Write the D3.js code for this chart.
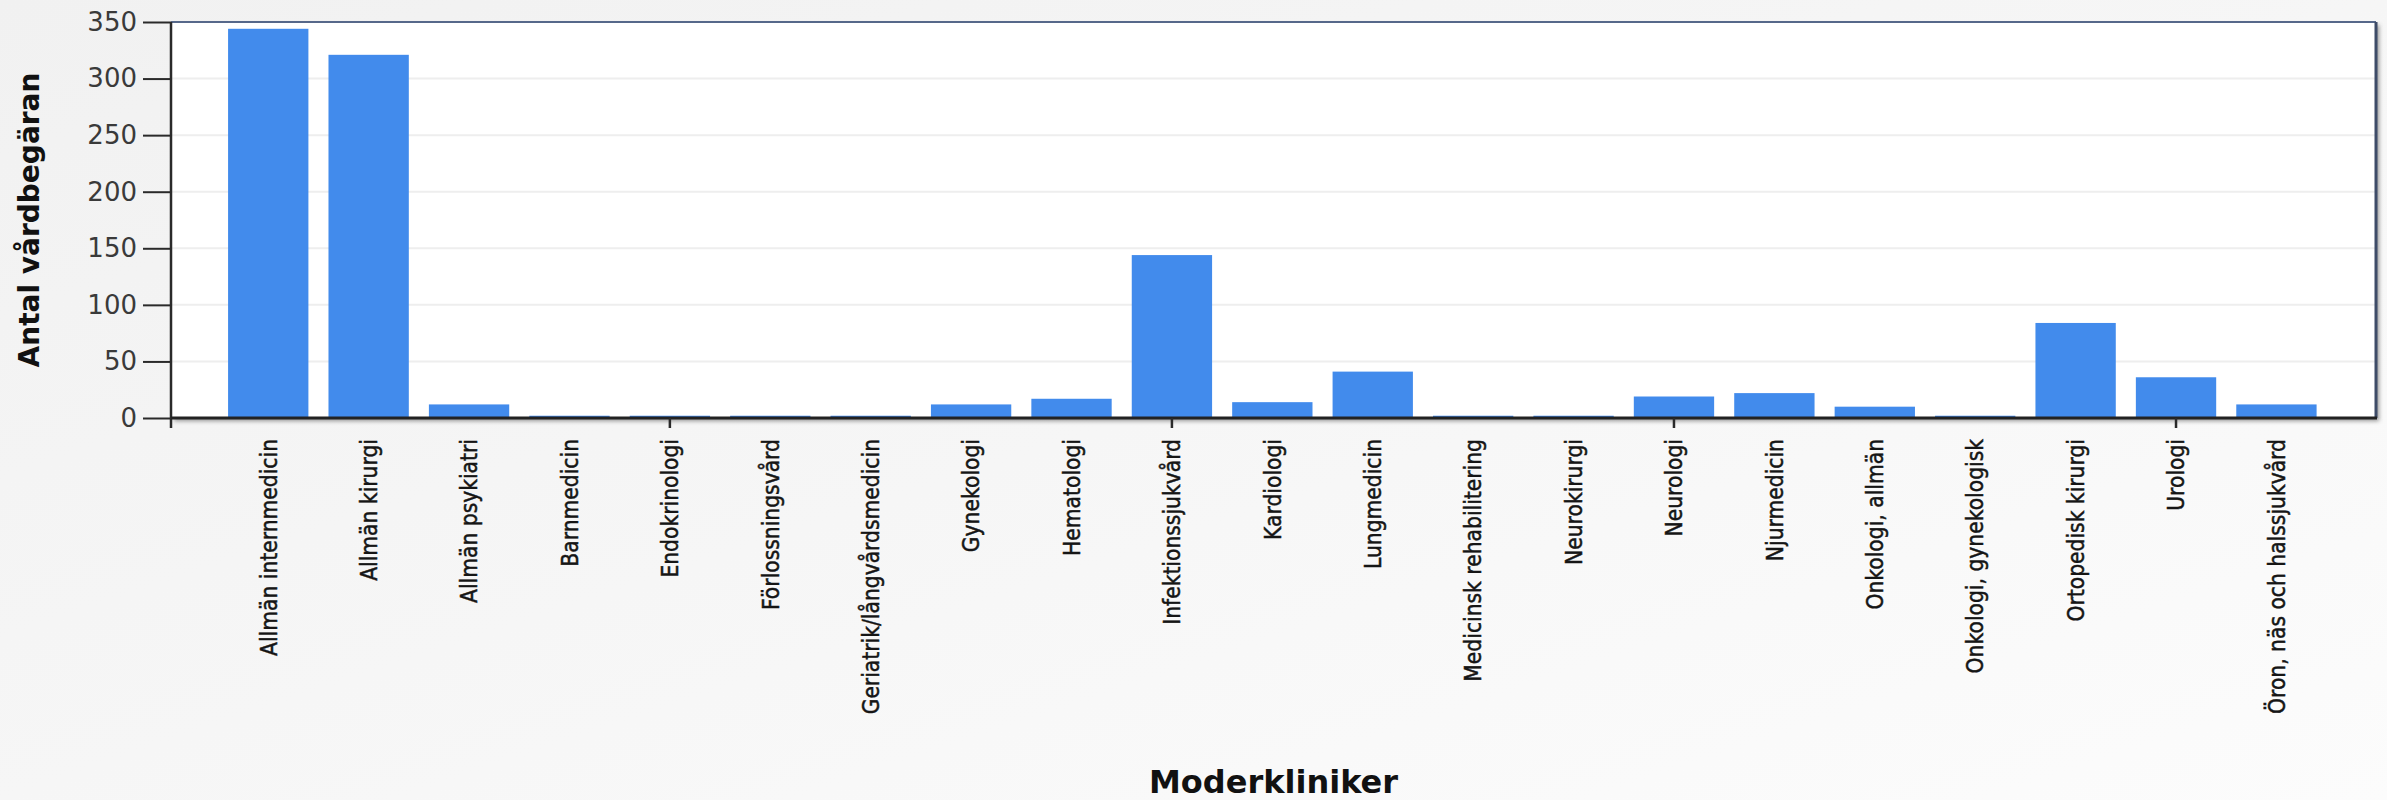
<!DOCTYPE html>
<html>
<head>
<meta charset="utf-8">
<script src="https://cdn.jsdelivr.net/npm/d3@7/dist/d3.min.js"></script>
<style>
  html, body { margin: 0; padding: 0; overflow: hidden; }
  svg { display: block; }
</style>
</head>
<body>
<svg id="chart" width="2387" height="800"></svg>
<script>
const categories = [
  "Allmän internmedicin", "Allmän kirurgi", "Allmän psykiatri", "Barnmedicin",
  "Endokrinologi", "Förlossningsvård", "Geriatrik/långvårdsmedicin", "Gynekologi",
  "Hematologi", "Infektionssjukvård", "Kardiologi", "Lungmedicin",
  "Medicinsk rehabilitering", "Neurokirurgi", "Neurologi", "Njurmedicin",
  "Onkologi, allmän", "Onkologi, gynekologisk", "Ortopedisk kirurgi", "Urologi",
  "Öron, näs och halssjukvård"
];
const values = [344, 321, 12, 2, 2, 2, 2, 12, 17, 144, 14, 41, 2, 2, 19, 22, 10, 2, 84, 36, 12];
const yTicks = [0, 50, 100, 150, 200, 250, 300, 350];
const xTickCategories = ["Endokrinologi", "Infektionssjukvård", "Neurologi", "Urologi"];
const yTitle = "Antal vårdbegäran";
const xTitle = "Moderkliniker";

const W = 2387, H = 800;
const m = { left: 171, right: 2376, top: 22, bottom: 418 };

const svg = d3.select("#chart");
const defs = svg.append("defs");

const bg = defs.append("linearGradient").attr("id", "bg")
  .attr("x1", "0").attr("y1", "0").attr("x2", "1").attr("y2", "1");
bg.append("stop").attr("offset", "0").attr("stop-color", "#f1f1f1");
bg.append("stop").attr("offset", "0.5").attr("stop-color", "#f6f6f6");
bg.append("stop").attr("offset", "1").attr("stop-color", "#fcfcfc");

const blur = defs.append("filter").attr("id", "shadow")
  .attr("x", "-5%").attr("y", "-5%").attr("width", "110%").attr("height", "120%");
blur.append("feGaussianBlur").attr("stdDeviation", 2);

svg.append("rect").attr("width", W).attr("height", H).attr("fill", "url(#bg)");

const x = d3.scaleBand()
  .domain(categories)
  .range([m.left, m.right])
  .paddingInner(0.2)
  .paddingOuter(0.58)
  .align(0.49);

const y = d3.scaleLinear().domain([0, 350]).range([m.bottom, m.top]);

// shadow of frame
svg.append("rect")
  .attr("x", m.left + 3).attr("y", m.top + 3)
  .attr("width", m.right - m.left).attr("height", m.bottom - m.top)
  .attr("fill", "#7a7a7a").attr("filter", "url(#shadow)").attr("opacity", 0.8);

// plot background
svg.append("rect")
  .attr("x", m.left).attr("y", m.top)
  .attr("width", m.right - m.left).attr("height", m.bottom - m.top)
  .attr("fill", "#ffffff");

// grid
svg.append("g").selectAll("line").data(yTicks.filter(d => d > 0 && d < 350)).join("line")
  .attr("x1", m.left).attr("x2", m.right)
  .attr("y1", d => y(d)).attr("y2", d => y(d))
  .attr("stroke", "#eeeeee").attr("stroke-width", 2);

// bars
svg.append("g").selectAll("rect").data(values).join("rect")
  .attr("x", (d, i) => x(categories[i]))
  .attr("width", x.bandwidth())
  .attr("y", d => y(d))
  .attr("height", d => y(0) - y(d))
  .attr("fill", "#428bec");

// frame top and right
svg.append("line").attr("x1", m.left).attr("x2", m.right).attr("y1", m.top).attr("y2", m.top)
  .attr("stroke", "#56688a").attr("stroke-width", 2);
svg.append("line").attr("x1", m.right).attr("x2", m.right).attr("y1", m.top).attr("y2", m.bottom)
  .attr("stroke", "#3e4c68").attr("stroke-width", 3);

// y axis
const yAxis = d3.axisLeft(y).tickValues(yTicks).tickSize(28).tickPadding(6);
const gy = svg.append("g").attr("transform", `translate(${m.left},0)`).call(yAxis);
gy.select(".domain").remove();
gy.selectAll(".tick line").attr("stroke", "#2a2a2a").attr("stroke-width", 2);
gy.selectAll(".tick text")
  .attr("font-family", "DejaVu Sans, Verdana, sans-serif")
  .attr("font-size", 26)
  .attr("fill", "#3a3a3a");

// left axis line (extends slightly below)
svg.append("line").attr("x1", m.left).attr("x2", m.left).attr("y1", m.top).attr("y2", m.bottom + 10)
  .attr("stroke", "#2a2a2a").attr("stroke-width", 2.5);

// bottom axis line
svg.append("line").attr("x1", m.left).attr("x2", m.right + 1).attr("y1", m.bottom).attr("y2", m.bottom)
  .attr("stroke", "#222222").attr("stroke-width", 3);

// x tick marks at selected categories
svg.append("g").selectAll("line").data(xTickCategories).join("line")
  .attr("x1", d => x(d) + x.bandwidth() / 2).attr("x2", d => x(d) + x.bandwidth() / 2)
  .attr("y1", m.bottom).attr("y2", m.bottom + 10)
  .attr("stroke", "#2a2a2a").attr("stroke-width", 2.5);

// x labels (rotated, condensed)
const labelG = svg.append("g");
const probe = labelG.append("text")
  .attr("font-family", "DejaVu Sans, Verdana, sans-serif")
  .attr("font-size", 23)
  .text(categories[0]);
const natural = probe.node().getComputedTextLength();
probe.remove();
const sx = 217 / natural;

labelG.selectAll("text").data(categories).join("text")
  .attr("transform", d => `translate(${x(d) + x.bandwidth() / 2},439) rotate(-90) scale(${sx},1)`)
  .attr("text-anchor", "end")
  .attr("dy", "0.36em")
  .attr("font-family", "DejaVu Sans, Verdana, sans-serif")
  .attr("font-size", 23)
  .attr("fill", "#151515")
  .attr("stroke", "#151515")
  .attr("stroke-width", 0.5)
  .text(d => d);

// axis titles
svg.append("text")
  .attr("transform", `translate(39,${(m.top + m.bottom) / 2}) rotate(-90)`)
  .attr("text-anchor", "middle")
  .attr("font-family", "DejaVu Sans, Verdana, sans-serif")
  .attr("font-weight", "bold")
  .attr("font-size", 28)
  .attr("fill", "#111")
  .text(yTitle);

svg.append("text")
  .attr("x", (m.left + m.right) / 2)
  .attr("y", 793)
  .attr("text-anchor", "middle")
  .attr("font-family", "DejaVu Sans, Verdana, sans-serif")
  .attr("font-weight", "bold")
  .attr("font-size", 32)
  .attr("fill", "#111")
  .text(xTitle);
</script>
</body>
</html>
